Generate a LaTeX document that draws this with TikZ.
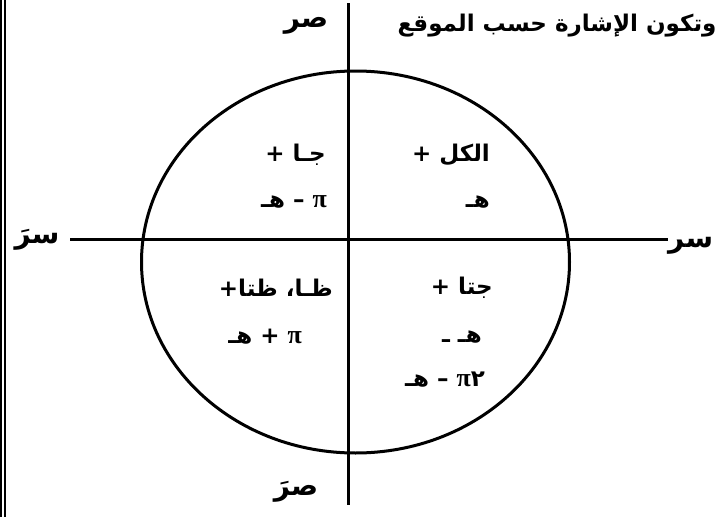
\documentclass[tikz,border=0pt]{standalone}
\usepackage{fontspec}
\newfontfamily\arabicfont[Script=Arabic]{DejaVu Sans}
\newfontfamily\pifont{Liberation Serif}
\TeXXeTstate=1
\newcommand{\ppi}{{\pifont\bfseries\fontsize{26}{28}\selectfont π}}
\tikzset{
  lbl/.style={font=\arabicfont\bfseries\fontsize{23}{26}\selectfont, inner sep=0pt},
  axlbl/.style={font=\arabicfont\bfseries\fontsize{28}{30}\selectfont, inner sep=0pt},
  axis/.style={line width=3pt}
}

\begin{document}
\begin{tikzpicture}[x=1pt,y=-1pt]
\useasboundingbox (0,0) rectangle (724,517);
% left border
\draw[line width=2pt] (1,0) -- (1,517);
\draw[line width=2pt] (5,0) -- (5,517);

% axes
\coordinate (ytop) at (348,3);
\coordinate (ybot) at (348,505);
\coordinate (xleft) at (70,239);
\coordinate (xright) at (668,239);
\draw[axis] (ytop) -- (ybot);
\draw[axis] (xleft) -- (xright);
\draw[axis] (355.5,262) ellipse (214 and 191);

% axis labels
\node[lbl] (title) at (557,26) {\beginR وتكون الإشارة حسب الموقع\endR};
\node[axlbl] (ylab) at (306,26) {\beginR صر\endR};
\node[axlbl] (ylabneg) at (296,492) {\beginR صرَ\endR};
\node[axlbl,anchor=west,yshift=-7pt] (xlab) at (xright) {\beginR سر\endR};
\node[axlbl] (xlabneg) at (37,240) {\beginR سرَ\endR};

% first quadrant
\node[lbl,anchor=east] (qone) at (490,155) {\beginR الكل +\endR};
\node[lbl,anchor=east] (qoneang) at (490,202) {\beginR هـ\endR};
% second quadrant
\node[lbl,anchor=east] (qtwo) at (326,155) {\beginR جـا +\endR};
\node[lbl,anchor=east] (qtwoang) at (327,202) {\beginR\ppi{} – هـ\endR};
% third quadrant
\node[lbl,anchor=east] (qthree) at (333,288) {\beginR ظـا، ظتا\kern0pt+\endR};
\node[lbl,anchor=east] (qthreeang) at (302,337) {\beginR\ppi{} + هـ\endR};
% fourth quadrant
\node[lbl,anchor=east] (qfour) at (493,288) {\beginR جتا +\endR};
\node[lbl,anchor=east] (qfourang) at (482,337) {\beginR هـ ـ\endR};
\node[lbl,anchor=east] (qfourangb) at (485,380) {\beginR ٢\kern0pt\ppi{} – هـ\endR};
\end{tikzpicture}
\end{document}
